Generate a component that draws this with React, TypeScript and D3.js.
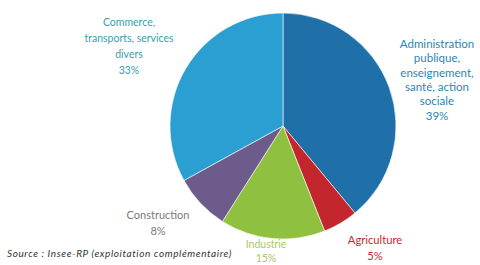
import * as d3 from "d3";

const sectors = ["Administration", "Agriculture", "Industrie", "Construction", "Commerce"];
const shares = [39, 5, 15, 8, 33];
const fills = ["#1f6fa8", "#c4262e", "#8fc040", "#6d5b8c", "#2b9fd2"];

const labelLines: string[][] = [
  ["Administration", "publique,", "enseignement,", "santé, action", "sociale", "39%"],
  ["Agriculture", "5%"],
  ["Industrie", "15%"],
  ["Construction", "8%"],
  ["Commerce,", "transports, services", "divers", "33%"],
];
const labelColors = ["#2a86b4", "#c8282e", "#a9c860", "#7a7a7a", "#3a9eaa"];
// x, first baseline, line step, font size
const labelPos: [number, number, number, number][] = [
  [437, 48, 14.3, 11.5],
  [375, 244, 15.5, 11.2],
  [266, 248, 14, 10.5],
  [158, 219, 16, 11],
  [129, 26, 16, 10.5],
];

const source = "Source : Insee-RP (exploitation complémentaire)";

export default function App() {
  const W = 480;
  const H = 265;
  const cx = 283;
  const cy = 126;
  const r = 113;

  const pie = d3
    .pie<number>()
    .sort(null)
    .value((d) => d);
  const arcs = pie(shares);
  const arc = d3.arc<d3.PieArcDatum<number>>().innerRadius(0).outerRadius(r);

  return (
    <svg
      width={W}
      height={H}
      style={{ position: "absolute", left: 0, top: 0, background: "#fff" }}
      fontFamily="Lato, 'Open Sans', sans-serif"
    >
      <g transform={`translate(${cx},${cy})`}>
        {arcs.map((a, i) => (
          <path key={sectors[i]} d={arc(a) ?? ""} fill={fills[i]} stroke="#ffffff" strokeWidth={0.6} />
        ))}
      </g>
      {labelLines.map((lines, i) => (
        <text key={sectors[i]} textAnchor="middle" fontSize={labelPos[i][3]} fill={labelColors[i]}>
          {lines.map((l, j) => (
            <tspan key={j} x={labelPos[i][0]} y={labelPos[i][1] + j * labelPos[i][2]}>
              {l}
            </tspan>
          ))}
        </text>
      ))}
      <text x={7} y={257} fontSize={10} fontStyle="italic" letterSpacing={0.6} fill="#333">
        {source}
      </text>
    </svg>
  );
}
